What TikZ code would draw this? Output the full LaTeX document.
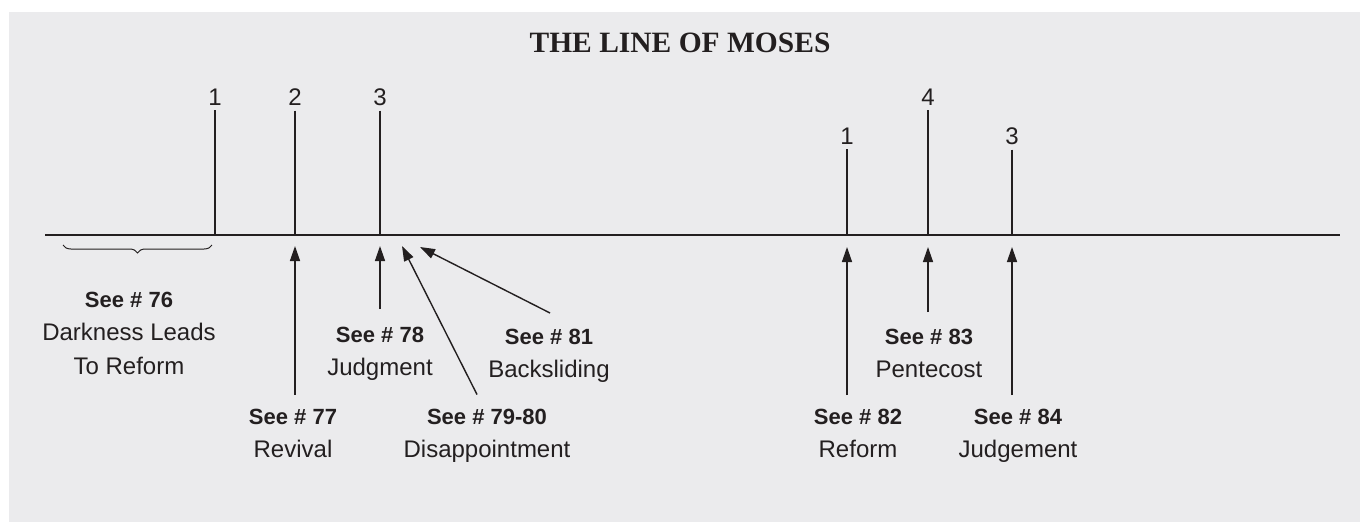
\documentclass[tikz,border=0pt]{standalone}
\usepackage{fontspec}
\setmainfont{Liberation Sans}
\newfontfamily\titlefont{Liberation Serif}
\usetikzlibrary{arrows.meta,decorations.pathreplacing}
\definecolor{bggray}{HTML}{EBEBED}
\definecolor{ink}{HTML}{231F20}
\tikzset{
  axisline/.style={line width=2.7pt,draw=ink},
  tickline/.style={line width=2.2pt,draw=ink,shorten <=5pt},
  numlbl/.style={inner sep=0pt,text=ink,font=\fontsize{24}{28}\selectfont},
  arr/.style={line width=1.4pt,draw=ink,-{Triangle[length=15pt,width=10pt]}},
  lbl/.style={inner sep=0pt,anchor=north,align=center,text=ink,font=\fontsize{24}{33.5}\selectfont},
  bracestyle/.style={line width=1pt,draw=ink,decorate,decoration={brace,mirror,amplitude=8pt}}
}
\newcommand{\seeno}[1]{{\bfseries\fontsize{22}{33.5}\selectfont See \# #1}}
\begin{document}
\begin{tikzpicture}[x=1pt,y=-1pt]
\useasboundingbox (0,0) rectangle (1360,522);
\fill[bggray] (9,12) rectangle (1360,522);
% title
\node[inner sep=0pt,text=ink,font=\titlefont\bfseries\fontsize{29.5}{34}\selectfont] (title) at (680,43) {THE LINE OF MOSES};
% axis
\coordinate (axL) at (45,235);
\coordinate (axR) at (1340,235);
\draw[axisline] (axL) -- (axR);
% ticks
\coordinate (a1) at (215,235);
\coordinate (a2) at (295,235);
\coordinate (a3) at (380,235);
\coordinate (b1) at (847,235);
\coordinate (b4) at (928,235);
\coordinate (b3) at (1012,235);
\node[numlbl] (n1) at (215,97) {1};
\node[numlbl] (n2) at (295,97) {2};
\node[numlbl] (n3) at (380,97) {3};
\node[numlbl] (m1) at (847,136) {1};
\node[numlbl] (m4) at (928,97) {4};
\node[numlbl] (m3) at (1012,136) {3};
\draw[tickline] (n1.south) -- (a1);
\draw[tickline] (n2.south) -- (a2);
\draw[tickline] (n3.south) -- (a3);
\draw[tickline] (m1.south) -- (b1);
\draw[tickline] (m4.south) -- (b4);
\draw[tickline] (m3.south) -- (b3);
% brace
\coordinate (brL) at (63,245);
\coordinate (brR) at (212,245);
\draw[bracestyle] (brL) -- (brR);
% arrow heads
\coordinate (h77) at (295,246);
\coordinate (h78) at (380,246);
\coordinate (h79) at (402,246);
\coordinate (h81) at (420,247);
\coordinate (h82) at (847,247);
\coordinate (h83) at (928,247);
\coordinate (h84) at (1012,247);
% labels
\node[lbl] (s76) at (129,291.5) {\seeno{76}\\Darkness Leads\\To Reform};
\node[lbl] (s77) at (293,408.5) {\seeno{77}\\Revival};
\node[lbl] (s78) at (380,326.5) {\seeno{78}\\Judgment};
\node[lbl] (s79) at (487,408.5) {\seeno{79-80}\\Disappointment};
\node[lbl] (s81) at (549,328.5) {\seeno{81}\\Backsliding};
\node[lbl] (s82) at (858,408.5) {\seeno{82}\\Reform};
\node[lbl] (s83) at (929,328.5) {\seeno{83}\\Pentecost};
\node[lbl] (s84) at (1018,408.5) {\seeno{84}\\Judgement};
% arrows
\draw[arr] ([xshift=2pt,yshift=14pt]s77.north) -- (h77);
\draw[arr] ([yshift=17.5pt]s78.north) -- (h78);
\draw[arr] ([xshift=-10pt,yshift=14pt]s79.north) -- (h79);
\draw[arr] ([xshift=1pt,yshift=15.5pt]s81.north) -- (h81);
\draw[arr] ([xshift=-11pt,yshift=13.5pt]s82.north) -- (h82);
\draw[arr] ([xshift=-1pt,yshift=16.5pt]s83.north) -- (h83);
\draw[arr] ([xshift=-6pt,yshift=13.5pt]s84.north) -- (h84);
\end{tikzpicture}
\end{document}
